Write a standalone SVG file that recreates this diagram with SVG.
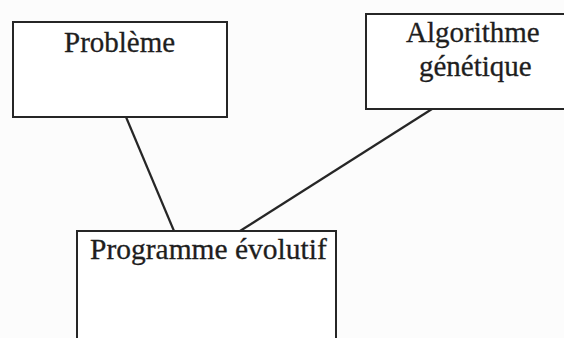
<svg xmlns="http://www.w3.org/2000/svg" width="564" height="338" viewBox="0 0 564 338">
  <style>
    .box { fill: #ffffff; stroke: #262626; stroke-width: 2; }
    .link { stroke: #262626; stroke-width: 2.2; fill: none; }
    .label { font-family: "Liberation Serif", "Times New Roman", serif; font-size: 29px; fill: #1e1e1e; stroke: #1e1e1e; stroke-width: 0.3; }
  </style>
  <rect width="564" height="338" fill="#fcfcfc"/>
  <g id="connectors">
    <line class="link" x1="126" y1="117" x2="174" y2="231"/>
    <line class="link" x1="432" y1="109" x2="240" y2="231"/>
  </g>
  <g id="probleme">
    <rect class="box" x="13" y="22" width="214" height="95"/>
    <text class="label" x="64" y="52">Problème</text>
  </g>
  <g id="algorithme-genetique">
    <rect class="box" x="366" y="14" width="210" height="95"/>
    <text class="label" x="406" y="42">Algorithme</text>
    <text class="label" x="419" y="76">génétique</text>
  </g>
  <g id="programme-evolutif">
    <rect class="box" x="77" y="231" width="259" height="120"/>
    <text class="label" x="90" y="259" style="font-size:29.5px">Programme évolutif</text>
  </g>
</svg>
